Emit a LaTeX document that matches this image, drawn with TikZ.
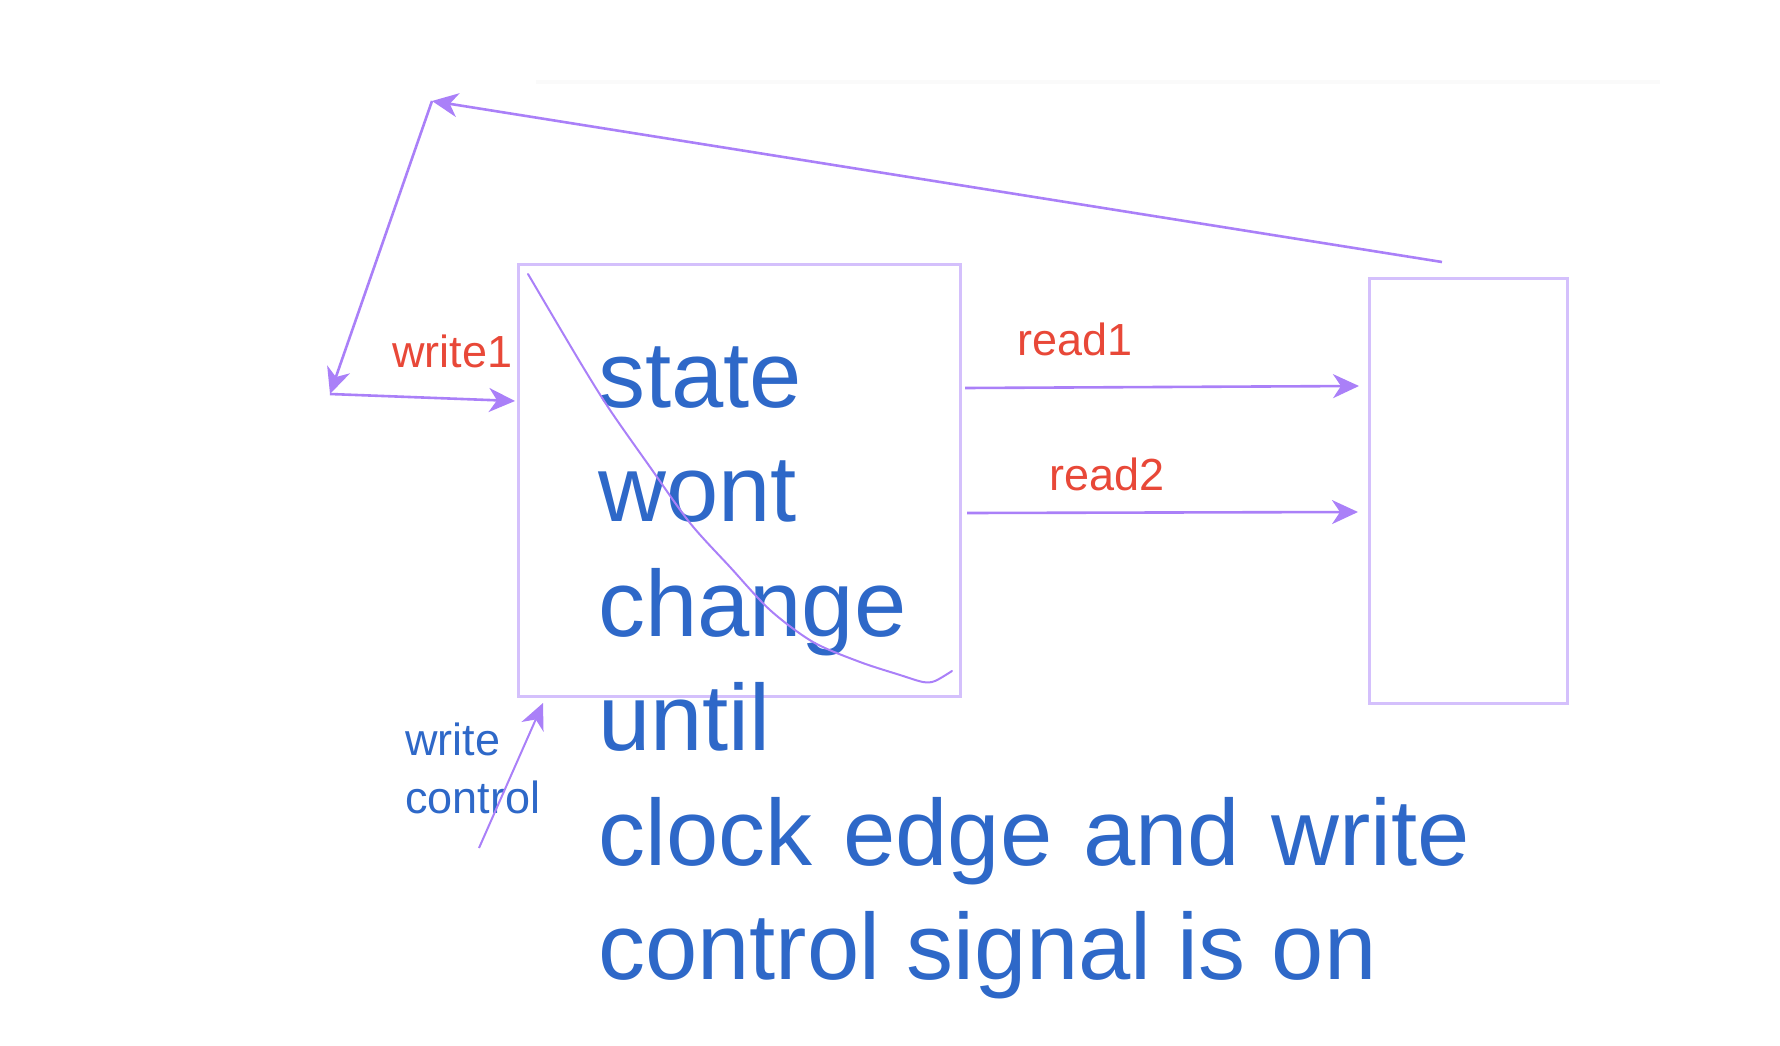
\documentclass[tikz,border=0pt]{standalone}
\usepackage{fontspec}
\setmainfont{Liberation Sans}
\usetikzlibrary{arrows.meta}
\definecolor{txtblue}{RGB}{46,104,200}
\definecolor{txtred}{RGB}{232,72,56}
\definecolor{arrpurple}{RGB}{170,128,248}
\definecolor{boxpurple}{RGB}{212,192,252}
\tikzset{
  regbox/.style={draw=boxpurple, line width=3pt, rectangle, inner sep=0pt},
  wire/.style={draw=arrpurple, line width=2.6pt, -{Stealth[length=26pt,width=24pt,inset=8pt]}},
  redlbl/.style={text=txtred, inner sep=0pt, anchor=base west, font=\fontsize{45}{52}\selectfont},
  bluebig/.style={text=txtblue, inner sep=0pt, anchor=base west, font=\fontsize{94}{114}\selectfont},
}
\begin{document}
\begin{tikzpicture}[x=1pt,y=-1pt]
\useasboundingbox (0,0) rectangle (1780,1046);
\draw[black!2, line width=4pt] (536,82) -- (1660,82);
% boxes
\node[regbox, minimum width=442pt, minimum height=432pt] (reg) at (739,480) {};
\node[regbox, minimum width=198pt, minimum height=425pt] (dst) at (1468,490.5) {};
% big text
\node[bluebig] (t1) at (598,407) {state};
\node[bluebig] (t2) at (598,521.6) {wont};
\node[bluebig] (t3) at (598,636) {change};
\node[bluebig] (t4) at (598,750.5) {until};
\node[bluebig] (t5) at (598,865) {\spaceskip=31pt clock edge and write};
\node[bluebig] (t6) at (598,979.5) {control signal is on};
% labels
\node[redlbl] (w1) at (392,367) {write1};
\node[redlbl] (r1) at (1017,355) {read1};
\node[redlbl] (r2) at (1049,490) {read2};
\node[text=txtblue, inner sep=0pt, anchor=base west, align=left, font=\fontsize{45}{58}\selectfont] (wc) at (405,813) {write\\control};
% coordinates
\coordinate (fbstart) at (1442,262);
\coordinate (fbtop) at (432,101);
\coordinate (fbleft) at (330,394);
\coordinate (w1end) at (515,401);
\coordinate (r1s) at (965,388);
\coordinate (r1e) at (1359,386);
\coordinate (r2s) at (967,513);
\coordinate (r2e) at (1358,512);
\coordinate (wcs) at (479,848);
\coordinate (wce) at (543,703);
% wires
\draw[wire] (fbstart) -- (fbtop);
\draw[wire] (fbtop) -- (fbleft);
\draw[wire] (fbleft) -- (w1end);
\draw[wire] (r1s) -- (r1e);
\draw[wire] (r2s) -- (r2e);
\draw[wire, line width=2pt] (wcs) -- (wce);
% hand-drawn strike curve
\draw[arrpurple, line width=2pt, line cap=round, line join=round] plot[smooth, tension=0.5] coordinates {(528,274) (580,362) (610,410) (650,467) (690,523) (730,567) (770,610) (813,642) (860,662) (900,675) (923,682) (935,681) (952,671)};
\end{tikzpicture}
\end{document}
